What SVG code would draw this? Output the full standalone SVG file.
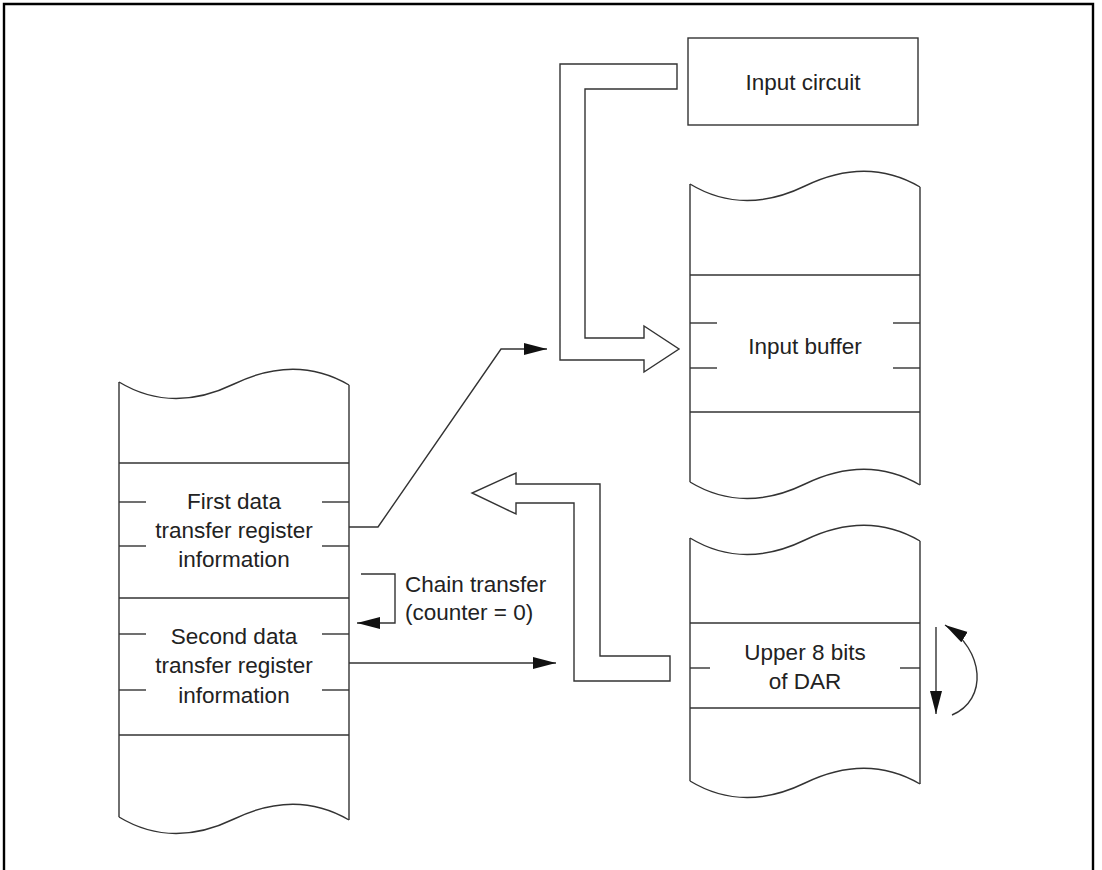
<svg xmlns="http://www.w3.org/2000/svg" width="1102" height="870" viewBox="0 0 1102 870">
<style>
.ln{fill:none;stroke:#333;stroke-width:1.4}
.ar{fill:#fff;stroke:#333;stroke-width:1.4}
.t{font-family:"Liberation Sans",Arial,sans-serif;font-size:22.5px;fill:#222;text-anchor:middle}
.tl{font-family:"Liberation Sans",Arial,sans-serif;font-size:22.5px;fill:#222}
</style>
<defs>
<marker id="ah" markerUnits="userSpaceOnUse" markerWidth="24" markerHeight="14" refX="23" refY="6" orient="auto">
<path d="M0,0 L23,6 L0,12 Z" fill="#111"/>
</marker>
</defs>
<rect width="1102" height="870" fill="#fff"/>
<path d="M4,872 V4 H1093 V872" fill="none" stroke="#000" stroke-width="2.4"/>

<g id="input-circuit">
<rect x="688" y="38" width="230" height="87" class="ln"/>
<text x="803" y="90" class="t">Input circuit</text>
</g>

<g id="input-buffer">
<path d="M690,184 Q743,216 805,186 T920,187" class="ln"/>
<path d="M690,482 Q743,514 805,484 T920,485" class="ln"/>
<line x1="690" y1="184" x2="690" y2="482" class="ln"/>
<line x1="920" y1="187" x2="920" y2="485" class="ln"/>
<line x1="690" y1="275" x2="920" y2="275" class="ln"/>
<line x1="690" y1="412" x2="920" y2="412" class="ln"/>
<line x1="690" y1="323" x2="717" y2="323" class="ln"/>
<line x1="893" y1="323" x2="920" y2="323" class="ln"/>
<line x1="690" y1="368" x2="717" y2="368" class="ln"/>
<line x1="893" y1="368" x2="920" y2="368" class="ln"/>
<text x="805" y="354" class="t">Input buffer</text>
</g>

<g id="dar">
<path d="M690,538 Q743,570 805,540 T920,541" class="ln"/>
<path d="M690,781 Q743,813 805,783 T920,784" class="ln"/>
<line x1="690" y1="538" x2="690" y2="781" class="ln"/>
<line x1="920" y1="541" x2="920" y2="784" class="ln"/>
<line x1="690" y1="623" x2="920" y2="623" class="ln"/>
<line x1="690" y1="708" x2="920" y2="708" class="ln"/>
<line x1="690" y1="668" x2="710" y2="668" class="ln"/>
<line x1="900" y1="668" x2="920" y2="668" class="ln"/>
<text x="805" y="660" class="t">Upper 8 bits</text>
<text x="805" y="689" class="t">of DAR</text>
</g>

<g id="transfer-info">
<path d="M119,382 Q172,414 234,384 T349,385" class="ln"/>
<path d="M119,817 Q172,849 234,819 T349,820" class="ln"/>
<line x1="119" y1="382" x2="119" y2="817" class="ln"/>
<line x1="349" y1="385" x2="349" y2="820" class="ln"/>
<line x1="119" y1="463" x2="349" y2="463" class="ln"/>
<line x1="119" y1="598" x2="349" y2="598" class="ln"/>
<line x1="119" y1="735" x2="349" y2="735" class="ln"/>
<line x1="119" y1="502" x2="146" y2="502" class="ln"/>
<line x1="322" y1="502" x2="349" y2="502" class="ln"/>
<line x1="119" y1="546" x2="146" y2="546" class="ln"/>
<line x1="322" y1="546" x2="349" y2="546" class="ln"/>
<line x1="119" y1="634" x2="146" y2="634" class="ln"/>
<line x1="322" y1="634" x2="349" y2="634" class="ln"/>
<line x1="119" y1="690" x2="146" y2="690" class="ln"/>
<line x1="322" y1="690" x2="349" y2="690" class="ln"/>
<text x="234" y="509" class="t">First data</text>
<text x="234" y="538" class="t">transfer register</text>
<text x="234" y="567" class="t">information</text>
<text x="234" y="644" class="t">Second data</text>
<text x="234" y="673" class="t">transfer register</text>
<text x="234" y="703" class="t">information</text>
</g>

<g id="chain-label">
<text x="405" y="592" class="tl">Chain transfer</text>
<text x="405" y="620" class="tl">(counter = 0)</text>
</g>

<g id="connectors">
<path d="M677,64 L560,64 L560,360 L644,360 L644,372 L679,349 L644,326 L644,338 L585,338 L585,89 L677,89 Z" class="ar"/>
<path d="M670,656 L600,656 L600,484 L516,484 L516,473 L472,493 L516,514 L516,503 L574,503 L574,681 L670,681 Z" class="ar"/>
<path d="M349,527 L378,527 L501,349 L547,349" class="ln" marker-end="url(#ah)"/>
<path d="M349,663 L556,663" class="ln" marker-end="url(#ah)"/>
<path d="M361,574 L395,574 L395,623 L357,623" class="ln" marker-end="url(#ah)"/>
<path d="M936,627 L936,714" class="ln" marker-end="url(#ah)"/>
<path d="M952,715 C988,700 985,650 945,625" class="ln" marker-end="url(#ah)"/>
</g>
</svg>
